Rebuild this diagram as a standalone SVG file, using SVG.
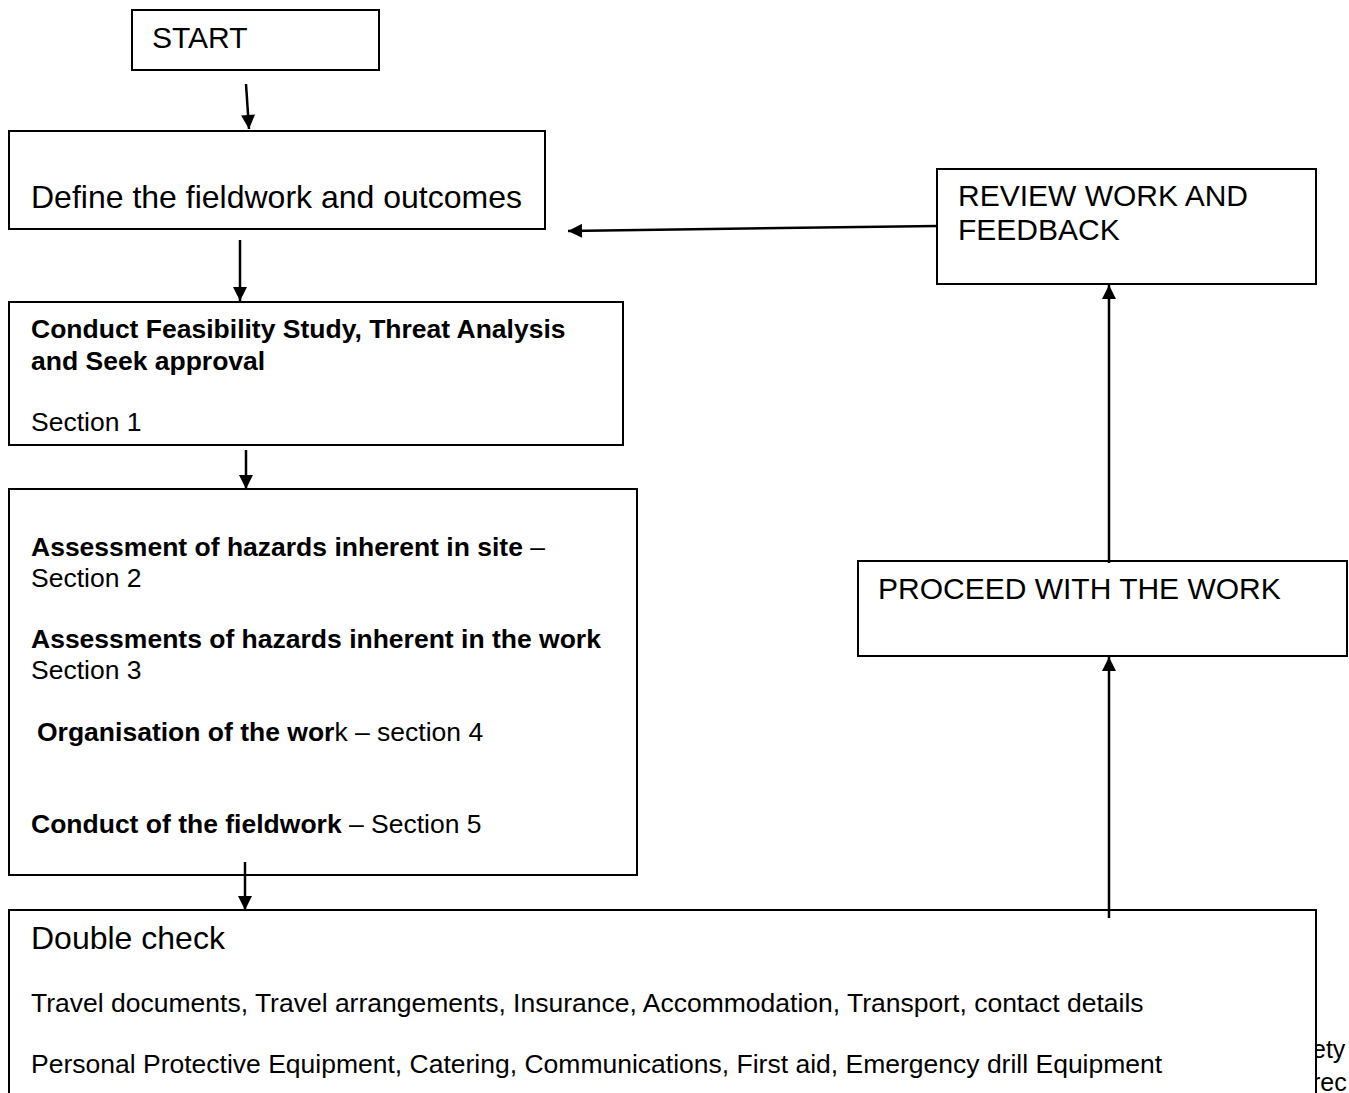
<svg xmlns="http://www.w3.org/2000/svg" width="1349" height="1093" viewBox="0 0 1349 1093">
<defs>
<style>
.box{fill:#fff;stroke:#000;stroke-width:2}
.t{font-family:"Liberation Sans",Arial,sans-serif;fill:#000}
.big{font-size:32px}
.cap{font-size:30px}
.body{font-size:26.5px}
.edge{font-size:25px}
.b{font-weight:bold}
.conn{stroke:#000;stroke-width:2.5;fill:none}
</style>
<marker id="ah" viewBox="0 0 10 10" refX="10" refY="5" markerWidth="16" markerHeight="14" markerUnits="userSpaceOnUse" orient="auto">
<path d="M0,0 L10,5 L0,10 Z" fill="#000"/>
</marker>
</defs>
<text class="t edge" x="1312" y="1058">ety</text>
<text class="t edge" x="1312" y="1091">rec</text>
<g id="start">
<rect class="box" x="132" y="10" width="247" height="60"/>
<text class="t cap" x="152" y="48">START</text>
</g>
<g id="define">
<rect class="box" x="9" y="131" width="536" height="98"/>
<text class="t big" x="31" y="208">Define the fieldwork and outcomes</text>
</g>
<g id="feasibility">
<rect class="box" x="9" y="302" width="614" height="143"/>
<text class="t body b" x="31" y="338">Conduct Feasibility Study, Threat Analysis</text>
<text class="t body b" x="31" y="370">and Seek approval</text>
<text class="t body" x="31" y="431">Section 1</text>
</g>
<g id="assessment">
<rect class="box" x="9" y="489" width="628" height="386"/>
<text class="t body" x="31" y="556"><tspan class="b">Assessment of hazards inherent in site</tspan> –</text>
<text class="t body" x="31" y="587">Section 2</text>
<text class="t body b" x="31" y="648">Assessments of hazards inherent in the work</text>
<text class="t body" x="31" y="679">Section 3</text>
<text class="t body" x="37" y="741"><tspan class="b">Organisation of the wor</tspan>k – section 4</text>
<text class="t body" x="31" y="833"><tspan class="b">Conduct of the fieldwork</tspan> – Section 5</text>
</g>
<g id="doublecheck">
<rect class="box" x="9" y="910" width="1307" height="200"/>
<text class="t big" x="31" y="949">Double check</text>
<text class="t body" x="31" y="1012">Travel documents, Travel arrangements, Insurance, Accommodation, Transport, contact details</text>
<text class="t body" x="31" y="1073">Personal Protective Equipment, Catering, Communications, First aid, Emergency drill Equipment</text>
</g>
<g id="review">
<rect class="box" x="937" y="169" width="379" height="115"/>
<text class="t cap" x="958" y="206">REVIEW WORK AND</text>
<text class="t cap" x="958" y="240">FEEDBACK</text>
</g>
<g id="proceed">
<rect class="box" x="858" y="561" width="489" height="95"/>
<text class="t cap" x="878" y="599">PROCEED WITH THE WORK</text>
</g>
<g id="connectors">
<line class="conn" x1="246" y1="84" x2="249" y2="129" marker-end="url(#ah)"/>
<line class="conn" x1="240" y1="240" x2="240" y2="301" marker-end="url(#ah)"/>
<line class="conn" x1="246" y1="450" x2="246" y2="489" marker-end="url(#ah)"/>
<line class="conn" x1="245" y1="862" x2="245" y2="910" marker-end="url(#ah)"/>
<line class="conn" x1="937" y1="226" x2="568" y2="231" marker-end="url(#ah)"/>
<line class="conn" x1="1109" y1="563" x2="1109" y2="285" marker-end="url(#ah)"/>
<line class="conn" x1="1109" y1="918" x2="1109" y2="657" marker-end="url(#ah)"/>
</g>
</svg>
